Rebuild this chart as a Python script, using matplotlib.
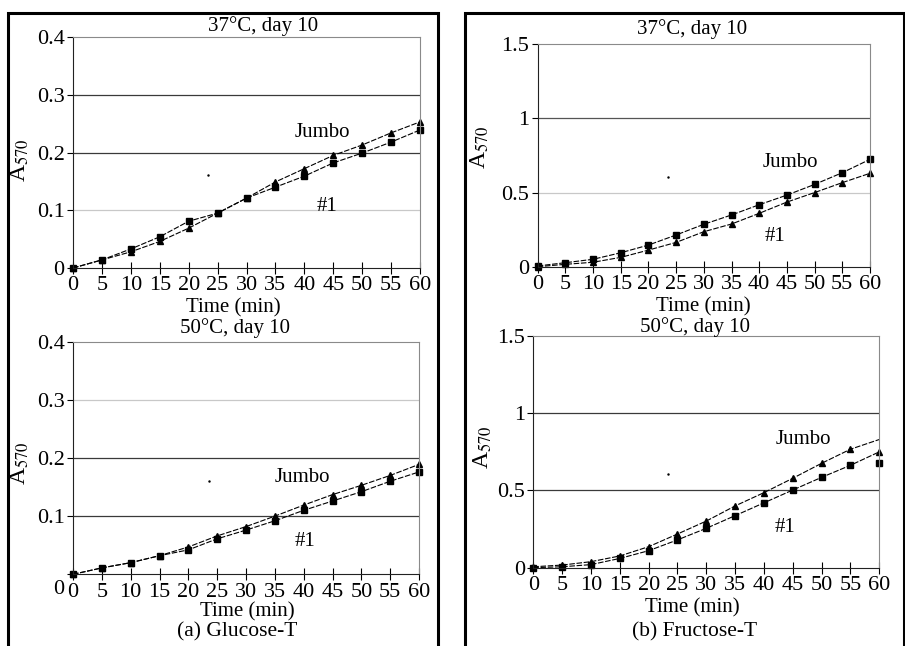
import numpy as np
import matplotlib
matplotlib.use('Agg')
import matplotlib.pyplot as plt
from matplotlib.patches import Rectangle
from matplotlib.transforms import ScaledTranslation

plt.rcParams['font.family'] = ['Liberation Serif', 'DejaVu Serif']
plt.rcParams['mathtext.fontset'] = 'stix'

# time axis (min)
times = [0, 5, 10, 15, 20, 25, 30, 35, 40, 45, 50, 55, 60]

# (a) Glucose-T, 37 C
glu37_tri = [0, 0.014, 0.028, 0.046, 0.069, 0.095, 0.121, 0.149, 0.172, 0.195, 0.213, 0.234, 0.253]
glu37_sq = [0, 0.014, 0.033, 0.054, 0.081, 0.095, 0.121, 0.140, 0.159, 0.182, 0.199, 0.218, 0.239]
# (a) Glucose-T, 50 C
glu50_tri = [0, 0.011, 0.020, 0.032, 0.047, 0.066, 0.082, 0.100, 0.119, 0.137, 0.153, 0.170, 0.189]
glu50_sq = [0, 0.011, 0.020, 0.032, 0.042, 0.061, 0.076, 0.092, 0.110, 0.126, 0.142, 0.160, 0.176]
# (b) Fructose-T, 37 C
fru37_sq = [0.005, 0.027, 0.050, 0.094, 0.146, 0.214, 0.286, 0.349, 0.418, 0.483, 0.555, 0.634, 0.724]
fru37_tri = [0, 0.016, 0.030, 0.063, 0.112, 0.164, 0.236, 0.288, 0.360, 0.436, 0.500, 0.567, 0.630]
# (b) Fructose-T, 50 C (last points off the drawn curves)
fru50_tri = [0.006, 0.017, 0.039, 0.076, 0.136, 0.218, 0.302, 0.400, 0.486, 0.579, 0.676, 0.767, 0.750]
fru50_sq = [0, 0.006, 0.020, 0.060, 0.110, 0.180, 0.255, 0.337, 0.420, 0.503, 0.585, 0.663, 0.676]
fru50_tri_curve_end = 0.83
fru50_sq_curve_end = 0.75

W, H = 905, 646


def px(x, y):
    return x / W, 1 - y / H


def box(x0, x1, y0, y1):
    return [x0 / W, 1 - y1 / H, (x1 - x0) / W, (y1 - y0) / H]


def panel(rect, ymax, yticks, ylabels, grid, tri, sq, tri_line, sq_line,
          jumbo_xy, n1_xy, dot_xy):
    ax = fig.add_axes(rect)
    ax.set_xlim(0, 60)
    ax.set_ylim(0, ymax)
    ax.set_xticks(times)
    ax.set_xticklabels([str(t) for t in times], fontsize=16)
    ax.set_yticks(yticks)
    ax.set_yticklabels(ylabels, fontsize=16)
    ax.tick_params(axis='x', direction='inout', length=8, width=0.8, pad=2)
    ax.tick_params(axis='y', direction='out', length=4, width=0.8, pad=2)
    for y, c in grid:
        ax.axhline(y, color=c, lw=0.9, zorder=1)
    for s in ['top', 'right']:
        ax.spines[s].set_color('#8a8a8a')
    for s in ['left', 'bottom']:
        ax.spines[s].set_color('#222222')

    ax.plot(times, tri_line, '--', color='black', lw=0.8, dashes=(5, 1.5))
    ax.plot(times, sq_line, '--', color='black', lw=0.8, dashes=(5, 1.5))
    ax.plot(times, tri, '^', color='black', ms=5, clip_on=False)
    ax.plot(times, sq, 's', color='black', ms=4, clip_on=False)

    ax.text(jumbo_xy[0], jumbo_xy[1], 'Jumbo', fontsize=15, ha='center', va='center')
    ax.text(n1_xy[0], n1_xy[1], '#1', fontsize=15, ha='center', va='center')
    ax.plot(dot_xy[0], dot_xy[1], '.', color='black', ms=1.5)
    return ax


fig = plt.figure(figsize=(9.05, 6.46), dpi=100)

dark = '#3a3a3a'
light = '#c8c8c8'

# outer frames
for x0, x1 in [(8, 438), (465, 904)]:
    fig.add_artist(Rectangle(px(x0, 700), (x1 - x0) / W, 687 / H,
                             fill=False, lw=2.2, ec='black',
                             transform=fig.transFigure))

ax1 = panel(box(73, 420, 37, 268), 0.4, [0, 0.1, 0.2, 0.3, 0.4],
            ['0', '0.1', '0.2', '0.3', '0.4'],
            [(0.1, light), (0.2, dark), (0.3, dark)],
            glu37_tri, glu37_sq, glu37_tri, glu37_sq,
            (43.1, 0.234), (43.9, 0.106), (23.4, 0.161))

ax2 = panel(box(537.7, 870, 44.3, 266.7), 1.5, [0, 0.5, 1, 1.5],
            ['0', '0.5', '1', '1.5'],
            [(0.5, light), (1, '#555555')],
            fru37_tri, fru37_sq, fru37_tri, fru37_sq,
            (45.6, 0.706), (42.8, 0.207), (23.5, 0.605))

ax3 = panel(box(73, 419, 341.7, 574.3), 0.4, [0, 0.1, 0.2, 0.3, 0.4],
            ['0', '0.1', '0.2', '0.3', '0.4'],
            [(0.1, dark), (0.2, dark), (0.3, light)],
            glu50_tri, glu50_sq, glu50_tri, glu50_sq,
            (39.7, 0.167), (40.2, 0.056), (23.6, 0.161))
# the "0" on this panel sits lower in the original
lab0 = ax3.get_yticklabels()[0]
lab0.set_transform(lab0.get_transform() + ScaledTranslation(0, -0.13, fig.dpi_scale_trans))

ax4 = panel(box(533.3, 879.3, 336, 567.7), 1.5, [0, 0.5, 1, 1.5],
            ['0', '0.5', '1', '1.5'],
            [(0.5, dark), (1, dark)],
            fru50_tri, fru50_sq,
            fru50_tri[:-1] + [fru50_tri_curve_end],
            fru50_sq[:-1] + [fru50_sq_curve_end],
            (46.8, 0.827), (43.6, 0.263), (23.4, 0.606))

# titles, axis labels, captions
fig.text(*px(263, 26), '37°C, day 10', fontsize=15, ha='center', va='center')
fig.text(*px(692, 29), '37°C, day 10', fontsize=15, ha='center', va='center')
fig.text(*px(235, 328), '50°C, day 10', fontsize=15, ha='center', va='center')
fig.text(*px(695, 327), '50°C, day 10', fontsize=15, ha='center', va='center')

fig.text(*px(233, 308), 'Time (min)', fontsize=15, ha='center', va='center')
fig.text(*px(703, 307), 'Time (min)', fontsize=15, ha='center', va='center')
fig.text(*px(247, 612), 'Time (min)', fontsize=15, ha='center', va='center')
fig.text(*px(692, 608), 'Time (min)', fontsize=15, ha='center', va='center')

for x, y in [(20, 160), (480, 147), (20, 463), (483, 447)]:
    fig.text(*px(x, y), r'A$_{570}$', fontsize=17, rotation=90, ha='center', va='center')

fig.text(*px(237, 632), '(a) Glucose-T', fontsize=15.5, ha='center', va='center')
fig.text(*px(695, 632), '(b) Fructose-T', fontsize=15.5, ha='center', va='center')

fig.savefig('out.png', dpi=100)
